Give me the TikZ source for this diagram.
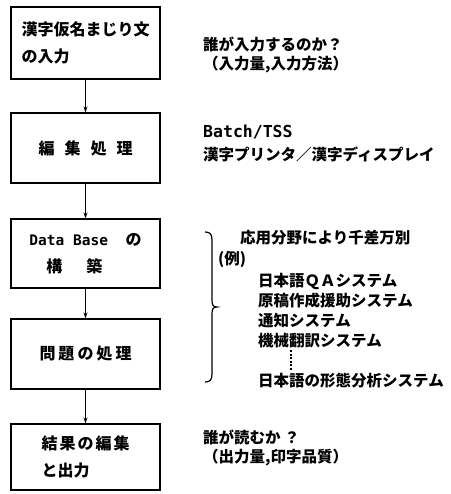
\documentclass[tikz,border=0pt]{standalone}
\usepackage{fontspec}
\setmainfont{Noto Sans CJK JP}
\newfontfamily\monofont{DejaVu Sans Mono}
\usetikzlibrary{arrows.meta}
\begin{document}
\begin{tikzpicture}[x=1pt,y=-1pt,
  box/.style={draw,line width=1.3pt,minimum width=149pt,inner sep=0pt,align=left,
    font=\fontsize{16}{27}\selectfont\bfseries},
  flow/.style={line width=1pt,-{Stealth[length=6pt,width=4pt]}},
  note/.style={anchor=west,inner sep=0pt,align=left,font=\fontsize{15.5}{21}\selectfont\bfseries}]
\useasboundingbox (0,0) rectangle (450,494);

\node[box,minimum height=72pt] (b1) at (85.5,43) {漢字仮名まじり文\\の入力};
\node[box,minimum height=70pt] (b2) at (85.5,148) {編\hspace{10pt}集\hspace{10pt}処\hspace{10pt}理};
\node[box,minimum height=69pt] (b3) at (85.5,253.5) {{\monofont\fontsize{14.5}{27}\selectfont Data Base\ \ }の\\\hspace{17pt}構\hspace{24pt}築};
\node[box,minimum height=70pt] (b4) at (85.5,354) {問\hspace{3pt}題\hspace{3pt}の\hspace{3pt}処\hspace{3pt}理};
\node[box,minimum height=66pt] (b5) at (85.5,457) {結\hspace{2pt}果\hspace{2pt}の\hspace{2pt}編\hspace{2pt}集\\と出力};

\draw[flow] (b1.south) -- (b2.north);
\draw[flow] (b2.south) -- (b3.north);
\draw[flow] (b3.south) -- (b4.north);
\draw[flow] (b4.south) -- (b5.north);

\node[note] (n1) at (203,44) {誰が入力するのか？};
\node[note] (n2) at (203,65) {（入力量,入力方法）};
\node[note] (n3) at (203,132) {{\monofont\fontsize{16.5}{21}\selectfont Batch/TSS}};
\node[note] (n4) at (203,154) {漢字プリンタ／漢字ディスプレイ};

\draw[line width=1.2pt] (205,232) .. controls (210,232) and (212,234) .. (212,240) -- (212,300)
  .. controls (212,305) and (213,307) .. (217,307)
  .. controls (213,307) and (212,309) .. (212,314) -- (212,374)
  .. controls (212,380) and (210,382) .. (205,382);

\node[note] (n5) at (240,238) {応用分野により千差万別};
\node[note] (n6) at (218,259) {(例)};
\node[note] (n7) at (258,281) {日本語ＱＡシステム};
\node[note] (n8) at (258,301) {原稿作成援助システム};
\node[note] (n9) at (258,321) {通知システム};
\node[note] (n10) at (258,341) {機械翻訳システム};
\coordinate (d1) at (291,350);
\coordinate (d2) at (291,371);
\draw[line width=1.5pt,dash pattern=on 2pt off 1.5pt] (d1) -- (d2);
\node[note] (n11) at (258,381) {日本語の形態分析システム};

\node[note] (n12) at (203,437) {誰が読むか ？};
\node[note] (n13) at (203,458) {（出力量,印字品質）};
\end{tikzpicture}
\end{document}
